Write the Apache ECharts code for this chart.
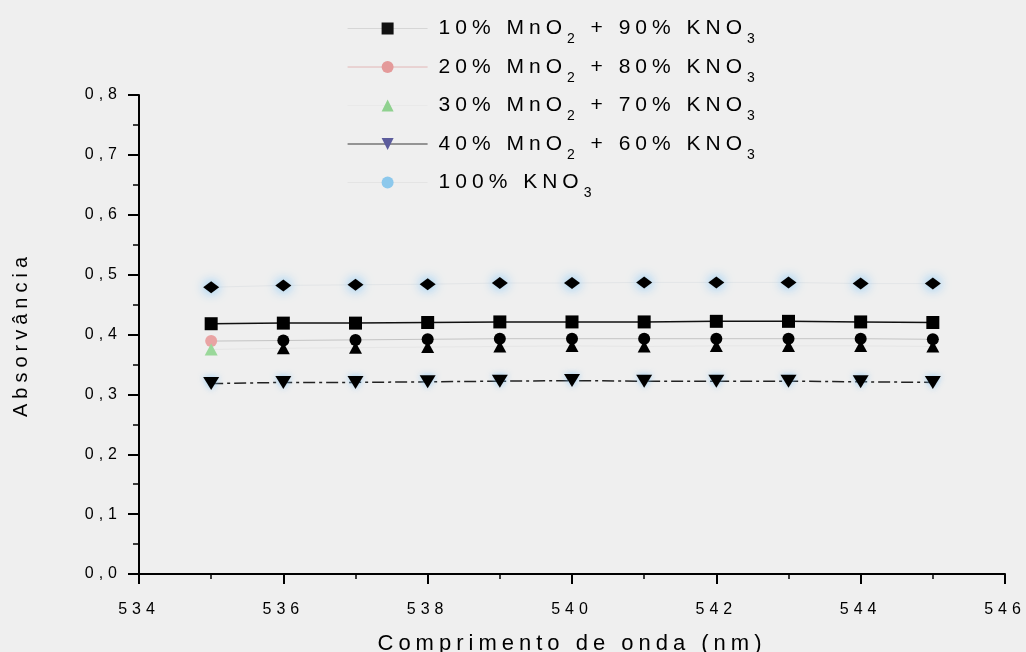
<!DOCTYPE html>
<html>
<head>
<meta charset="utf-8">
<title>Absorvância</title>
<script src="https://cdn.jsdelivr.net/npm/echarts@6/dist/echarts.min.js"></script>
<style>
  html, body { margin: 0; padding: 0; background: #efefef; }
  #chart { width: 1026px; height: 652px; }
</style>
</head>
<body>
<div id="chart"></div>
<script>
// Wide tracking for every label drawn on the chart canvases
(function () {
  const baseGetContext = HTMLCanvasElement.prototype.getContext;
  HTMLCanvasElement.prototype.getContext = function (type, opts) {
    const ctx = baseGetContext.call(this, type, opts);
    if (ctx && type === '2d' && 'letterSpacing' in ctx) ctx.letterSpacing = '5px';
    return ctx;
  };
})();

// Wavelength (nm)
const wavelengths = [535, 536, 537, 538, 539, 540, 541, 542, 543, 544, 545];

// Absorbance per mixture
const mix10 = [0.418, 0.419, 0.419, 0.420, 0.421, 0.421, 0.421, 0.422, 0.422, 0.421, 0.420];
const mix20 = [0.389, 0.390, 0.391, 0.392, 0.393, 0.393, 0.393, 0.393, 0.393, 0.393, 0.392];
const mix30 = [0.375, 0.377, 0.378, 0.379, 0.380, 0.381, 0.380, 0.381, 0.381, 0.381, 0.380];
const mix40 = [0.318, 0.320, 0.320, 0.321, 0.322, 0.323, 0.322, 0.322, 0.322, 0.321, 0.320];
const kno3Only = [0.479, 0.482, 0.483, 0.484, 0.486, 0.486, 0.487, 0.487, 0.487, 0.485, 0.485];

// Series names (digits after "O" are printed as subscripts)
const seriesNames = [
  '10% MnO2 + 90% KNO3',
  '20% MnO2 + 80% KNO3',
  '30% MnO2 + 70% KNO3',
  '40% MnO2 + 60% KNO3',
  '100% KNO3'
];

// Axis tick labels
const xTickLabels = ['534', '536', '538', '540', '542', '544', '546'];
const yTickLabels = ['0,0', '0,1', '0,2', '0,3', '0,4', '0,5', '0,6', '0,7', '0,8'];

const FONT = "'Liberation Sans', Arial, sans-serif";

function pairs(values) {
  return wavelengths.map((x, i) => [x, values[i]]);
}

function richName(name) {
  return ('{n|' + name.replace(/O(\d)/g, 'O}{s|$1}{n|') + '}').replace('{n|}', '');
}

const chart = echarts.init(document.getElementById('chart'), null, { renderer: 'canvas' });

const mix20Data = pairs(mix20).map((v, i) =>
  i === 0 ? { value: v, itemStyle: { color: '#e9a3a3' } } : v);
const mix30Data = pairs(mix30).map((v, i) =>
  i === 0 ? { value: v, itemStyle: { color: '#9ad89a' } } : v);
const kno3Data = pairs(kno3Only).map(v => ({ value: v, symbol: 'diamond' }));

const option = {
  backgroundColor: '#efefef',
  animation: false,
  textStyle: { fontFamily: FONT },
  grid: { left: 139, right: 21, top: 95, bottom: 78, containLabel: false, outerBoundsMode: 'none' },
  legend: {
    orient: 'vertical',
    left: 347,
    top: 8,
    padding: 0,
    itemGap: -2.5,
    itemWidth: 80,
    itemHeight: 15,
    selectedMode: false,
    formatter: richName,
    textStyle: {
      padding: [0, 0, 0, 6],
      rich: {
        n: { fontSize: 21, lineHeight: 26, color: '#000', fontFamily: FONT },
        s: { fontSize: 14, lineHeight: 14, color: '#000', fontFamily: FONT, padding: [22, 0, 0, 0] }
      }
    },
    data: [
      { name: seriesNames[0], itemStyle: { color: '#111111' }, lineStyle: { color: '#d6d6d6', width: 1, type: 'solid' } },
      { name: seriesNames[1], itemStyle: { color: '#e49a9a' }, lineStyle: { color: '#e2b6b6', width: 1, type: 'solid' } },
      { name: seriesNames[2], itemStyle: { color: '#8fd18f' }, lineStyle: { color: '#e9e9e9', width: 1, type: 'solid' } },
      { name: seriesNames[3], itemStyle: { color: '#5c5c9c', shadowBlur: 0 }, lineStyle: { color: '#3a3a3a', width: 1.2, type: 'solid' } },
      { name: seriesNames[4], itemStyle: { color: '#8cc8ec', shadowBlur: 0 }, lineStyle: { color: '#e4e4e4', width: 1, type: 'solid' } }
    ]
  },
  xAxis: {
    type: 'value',
    min: 534,
    max: 546,
    interval: 2,
    name: 'Comprimento de onda (nm)',
    nameLocation: 'middle',
    nameGap: 56,
    nameTextStyle: { fontSize: 22, color: '#000', fontFamily: FONT },
    axisLine: { show: true, onZero: false, lineStyle: { color: '#000', width: 2 } },
    axisTick: { show: true, inside: false, length: 10, lineStyle: { color: '#000', width: 2 } },
    minorTick: { show: true, splitNumber: 2, length: 5, lineStyle: { color: '#000', width: 1.5 } },
    splitLine: { show: false },
    axisLabel: {
      fontSize: 16,
      color: '#000',
      margin: 25,
      fontFamily: FONT,
      formatter: v => xTickLabels[Math.round((v - 534) / 2)]
    }
  },
  yAxis: {
    type: 'value',
    min: 0,
    max: 0.8,
    interval: 0.1,
    name: 'Absorvância',
    nameLocation: 'middle',
    nameGap: 105,
    nameTextStyle: { fontSize: 20, color: '#000', fontFamily: FONT },
    axisLine: { show: true, lineStyle: { color: '#000', width: 2 } },
    axisTick: { show: true, inside: false, length: 11, lineStyle: { color: '#000', width: 2 } },
    minorTick: { show: true, splitNumber: 2, length: 6, lineStyle: { color: '#000', width: 1.5 } },
    splitLine: { show: false },
    axisLabel: {
      fontSize: 16,
      color: '#000',
      margin: 17,
      fontFamily: FONT,
      formatter: v => yTickLabels[Math.round(v * 10)]
    }
  },
  series: [
    {
      name: seriesNames[0],
      type: 'line',
      data: pairs(mix10),
      symbol: 'rect',
      symbolSize: 13,
      itemStyle: { color: '#000' },
      lineStyle: { color: '#111', width: 1.5 },
      z: 3
    },
    {
      name: seriesNames[1],
      type: 'line',
      data: mix20Data,
      symbol: 'circle',
      symbolSize: 12,
      itemStyle: { color: '#000' },
      lineStyle: { color: '#c4c4c4', width: 1 },
      z: 3
    },
    {
      name: seriesNames[2],
      type: 'line',
      data: mix30Data,
      symbol: 'triangle',
      symbolSize: [13, 12],
      itemStyle: { color: '#000' },
      lineStyle: { color: '#e6e6e6', width: 1 },
      z: 3
    },
    {
      name: seriesNames[3],
      type: 'line',
      data: pairs(mix40),
      symbol: 'triangle',
      symbolRotate: 180,
      symbolSize: [16, 13],
      itemStyle: { color: '#000', shadowBlur: 6, shadowColor: 'rgba(130,195,245,0.8)' },
      lineStyle: { color: '#222', width: 1.5, type: [12, 4, 3, 4] },
      z: 3
    },
    {
      name: seriesNames[4],
      type: 'line',
      data: kno3Data,
      symbol: 'circle',
      symbolSize: [16, 12],
      itemStyle: { color: '#000', shadowBlur: 12, shadowColor: 'rgba(95,185,250,1)' },
      lineStyle: { color: '#e3e5e7', width: 1 },
      z: 3
    }
  ]
};

chart.setOption(option);
</script>
</body>
</html>
